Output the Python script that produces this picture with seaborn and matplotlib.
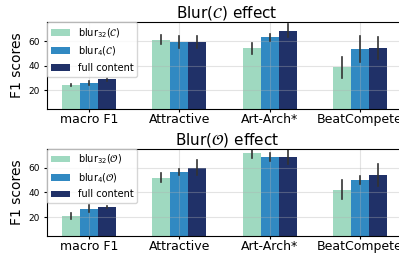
import pandas as pd
import seaborn as sns
import matplotlib.pyplot as plt

# categories on the x axis
categories = ["macro F1", "Attractive", "Art-Arch*", "BeatCompete"]

# Blur(C) panel: mean F1 and error half-width
c_blur32 = [24.3, 61.1, 54.1, 38.8]
c_blur32_err = [1.2, 3.5, 4.5, 8.5]
c_blur4 = [25.9, 59.5, 63.0, 53.3]
c_blur4_err = [1.6, 5.0, 3.2, 10.5]
c_full = [28.9, 59.5, 68.6, 54.1]
c_full_err = [1.0, 5.0, 5.6, 9.0]

# Blur(O) panel
o_blur32 = [21.0, 51.9, 72.2, 42.2]
o_blur32_err = [2.5, 3.8, 4.5, 7.7]
o_blur4 = [27.0, 56.8, 68.9, 50.3]
o_blur4_err = [3.0, 2.5, 3.0, 3.2]
o_full = [28.3, 60.0, 68.9, 54.3]
o_full_err = [1.0, 6.0, 5.5, 9.0]

colors = ["#9fd9c0", "#3189c2", "#203168"]


def make_df(series):
    """每个柱子放两行 (值-误差, 值+误差)，均值即柱高，min/max 即误差线"""
    rows = []
    for label, vals, errs in series:
        for cat, v, e in zip(categories, vals, errs):
            rows.append({"cat": cat, "series": label, "f1": v - e})
            rows.append({"cat": cat, "series": label, "f1": v + e})
    return pd.DataFrame(rows)


panels = [
    (r"Blur($\mathcal{C}$) effect", make_df([
        (r"blur$_{32}(\mathcal{C})$", c_blur32, c_blur32_err),
        (r"blur$_{4}(\mathcal{C})$", c_blur4, c_blur4_err),
        ("full content", c_full, c_full_err),
    ])),
    (r"Blur($\mathcal{O}$) effect", make_df([
        (r"blur$_{32}(\mathcal{O})$", o_blur32, o_blur32_err),
        (r"blur$_{4}(\mathcal{O})$", o_blur4, o_blur4_err),
        ("full content", o_full, o_full_err),
    ])),
]

fig = plt.figure(figsize=(3.99, 2.57), dpi=100)
axes = [fig.add_axes([0.117, 0.577, 0.905, 0.337]),
        fig.add_axes([0.117, 0.083, 0.905, 0.3385])]

for ax, (title, df) in zip(axes, panels):
    sns.barplot(
        data=df, x="cat", y="f1", hue="series", ax=ax,
        order=categories, palette=colors, saturation=1,
        width=0.6, estimator="mean",
        errorbar=lambda x: (x.min(), x.max()),
        err_kws={"linewidth": 1.2, "color": ".2"},
    )
    ax.set_xlim(-0.47, 3.53)
    ax.set_ylim(5, 75.5)
    ax.set_yticks([20, 40, 60])
    ax.grid(True, color="#b0b0b0", alpha=0.35, linewidth=0.8)
    ax.set_title(title, fontsize=11, pad=2.7)
    ax.set_xlabel("")
    ax.set_ylabel("F1 scores", fontsize=10, labelpad=3.5)
    ax.tick_params(axis="y", labelsize=6.5, length=2.2, pad=2.5)
    ax.tick_params(axis="x", labelsize=9, length=2.2, pad=1)
    ax.legend(loc="upper left", bbox_to_anchor=(0, 1), borderaxespad=0,
              fontsize=7, title=None)

fig.savefig("out.png", dpi=100)
